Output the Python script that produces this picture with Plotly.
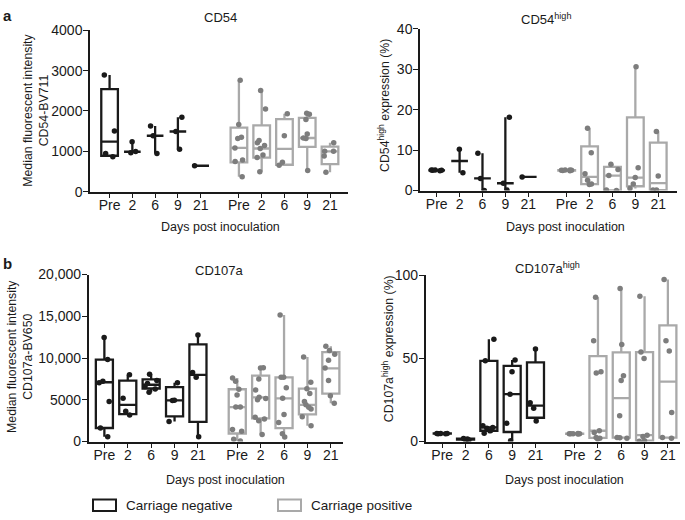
import plotly.graph_objects as go

# ---------------- data ----------------
categories = ["Pre", "2", "6", "9", "21"]

# panel a, left: CD54 MFI
cd54_neg_points = [[2890, 1506, 947, 868], [1240, 995, 965], [1626, 1386, 947],
                   [1842, 1491, 1050], [643]]
cd54_neg_stats = [[868, 890, 1240, 2540, 2890], [965, 990, 990, 990, 1240],
                  [947, 1386, 1386, 1386, 1626], [1050, 1491, 1491, 1491, 1842],
                  [643, 643, 643, 643, 643]]
cd54_pos_points = [[2762, 1667, 1347, 1320, 1083, 787, 748, 372],
                   [2506, 2050, 1266, 1211, 1146, 1067, 906, 844, 492],
                   [1930, 1386, 731, 655],
                   [1945, 1920, 1787, 1427, 1330, 1320, 523],
                   [1211, 1002, 1000, 883, 484]]
cd54_pos_stats = [[372, 724, 1083, 1587, 2762], [492, 844, 1070, 1642, 2506],
                  [655, 667, 1060, 1800, 1930], [523, 1108, 1330, 1827, 1945],
                  [484, 683, 1000, 1115, 1211]]

# panel a, right: CD54 high %
cd54h_neg_points = [[5.0, 5.1, 4.9, 5.0, 5.05], [10.2, 4.4], [9.2, 3.0, 0.0],
                    [18.1, 1.8, 0.1], [3.35]]
cd54h_neg_stats = [[4.9, 5.0, 5.0, 5.0, 5.1], [4.4, 7.3, 7.3, 7.3, 10.2],
                   [0.0, 3.0, 3.0, 3.0, 9.2], [0.1, 1.8, 1.8, 1.8, 18.1],
                   [3.35, 3.35, 3.35, 3.35, 3.35]]
cd54h_pos_points = [[5.0, 4.9, 5.1, 5.0, 4.95, 5.05], [15.4, 9.35, 4.15, 2.55, 1.6, 1.5],
                    [6.5, 5.2, 3.7, 0.1, 0.0], [30.6, 5.6, 3.2, 1.6, 0.5],
                    [14.6, 3.6, 0.1, 0.1]]
cd54h_pos_stats = [[4.9, 4.95, 5.0, 5.05, 5.1], [1.5, 1.58, 3.35, 10.9, 15.4],
                   [0.0, 0.05, 3.7, 5.85, 6.5], [0.5, 1.05, 3.2, 18.1, 30.6],
                   [0.1, 0.1, 1.85, 11.85, 14.6]]

# panel b, left: CD107a MFI
cd107_neg_points = [[12450, 9815, 7230, 7030, 4790, 1620, 580], [8000, 5170, 3630, 3170],
                    [8050, 7300, 6950, 6600, 6300, 5900], [7030, 4950, 4900, 2390],
                    [12760, 8270, 7690, 580]]
cd107_neg_stats = [[580, 1620, 7100, 9815, 12450], [3170, 3285, 4400, 7290, 8000],
                   [5900, 6350, 6800, 7450, 8050], [2390, 3017, 4925, 6510, 7030],
                   [580, 2357, 7980, 11637, 12760]]
cd107_pos_points = [[7610, 7230, 6260, 5570, 4130, 4130, 1430, 1230, 270, 70],
                    [8850, 8800, 7490, 6180, 5300, 5140, 5000, 2900, 2700, 2500, 850],
                    [15150, 7690, 7690, 6450, 5170, 3250, 2270, 930, 540],
                    [10130, 7110, 6330, 5750, 4790, 4400, 4100, 3900, 2970, 1890],
                    [11400, 10900, 10440, 9740, 8800, 7310, 5490, 4590]]
cd107_pos_stats = [[70, 960, 4130, 6260, 7610], [850, 2780, 5300, 7890, 8850],
                   [540, 1600, 5170, 7690, 15150], [1890, 3250, 4400, 6330, 10130],
                   [4590, 5750, 8770, 10710, 11400]]

# panel b, right: CD107a high %
cd107h_neg_points = [[4.8, 4.7, 4.9, 4.8, 4.75], [1.9, 1.5, 1.2, 1.0],
                     [61.5, 48.5, 9.5, 8.5, 8.0, 6.5, 5.0], [49, 42, 28.5, 11, 0.5],
                     [55.7, 23.3, 20, 12.4]]
cd107h_neg_stats = [[4.7, 4.75, 4.8, 4.85, 4.9], [1.0, 1.1, 1.35, 1.8, 1.9],
                    [5.0, 6.5, 8.5, 48.5, 61.5], [0.5, 5.75, 28.5, 45.5, 49],
                    [12.4, 14.3, 21.65, 47.6, 55.7]]
cd107h_pos_points = [[4.7, 4.8, 4.6, 4.7, 4.75, 4.65],
                     [86.8, 60.6, 42, 41.2, 6.5, 5.5, 2.5, 2.0, 1.5],
                     [92, 58.3, 39.6, 36.7, 15.5, 2.5, 2.3, 2.0],
                     [87.4, 53.8, 49.9, 3.8, 3.0, 0.5, 0.2],
                     [97.5, 60.6, 54.4, 17.5, 2.5, 2.0]]
cd107h_pos_stats = [[4.6, 4.65, 4.7, 4.75, 4.8], [1.5, 2.25, 6.5, 51.3, 86.8],
                    [2.0, 2.35, 26.1, 53.6, 92], [0.2, 0.5, 3.8, 53.8, 87.4],
                    [2.0, 2.4, 36, 69.8, 97.5]]

# ---------------- styling / layout ----------------
W, H = 685, 520
FONT = "Liberation Sans, Arial, Helvetica, sans-serif"
BLACK = "#1a1a1a"
GRAY_LINE = "#a9a9a9"
GRAY_DOT = "#7d7d7d"
GAP = 5.68          # offset of the carriage-positive group on the x axis
BOXW = 0.73


def px(x):
    return x / W


def py(y):
    return 1 - y / H


panels = [
    dict(neg=(cd54_neg_points, cd54_neg_stats), pos=(cd54_pos_points, cd54_pos_stats),
         xdom=[px(90), px(348)], xr=[-0.86, 10.47], ydom=[py(189.5), py(23)], yr=[0, 4000],
         tickvals=[0, 1000, 2000, 3000, 4000], ticktext=["0", "1000", "2000", "3000", "4000"]),
    dict(neg=(cd54h_neg_points, cd54h_neg_stats), pos=(cd54h_pos_points, cd54h_pos_stats),
         xdom=[px(420), px(677)], xr=[-0.73, 10.5], ydom=[py(188.3), py(21.5)], yr=[0, 40],
         tickvals=[0, 10, 20, 30, 40], ticktext=["0", "10", "20", "30", "40"]),
    dict(neg=(cd107_neg_points, cd107_neg_stats), pos=(cd107_pos_points, cd107_pos_stats),
         xdom=[px(88.7), px(343)], xr=[-0.67, 10.2], ydom=[py(447.3), py(275)], yr=[0, 20000],
         tickvals=[0, 5000, 10000, 15000, 20000], ticktext=["0", "5000", "10,000", "15,000", "20,000"]),
    dict(neg=(cd107h_neg_points, cd107h_neg_stats), pos=(cd107h_pos_points, cd107h_pos_stats),
         xdom=[px(425.7), px(680)], xr=[-0.71, 10.2], ydom=[py(447.3), py(275.7)], yr=[0, 100],
         tickvals=[0, 50, 100], ticktext=["0", "50", "100"]),
]

fig = go.Figure()
layout_axes = {}

for k, p in enumerate(panels):
    sfx = "" if k == 0 else str(k + 1)
    xa, ya = "x" + sfx, "y" + sfx
    for grp, offset, lcol, dcol in (("neg", 0.0, BLACK, BLACK), ("pos", GAP, GRAY_LINE, GRAY_DOT)):
        pts, stats = p[grp]
        xpos = [offset + i for i in range(len(categories))]
        fig.add_trace(go.Box(
            x=xpos,
            lowerfence=[s[0] for s in stats], q1=[s[1] for s in stats],
            median=[s[2] for s in stats], q3=[s[3] for s in stats],
            upperfence=[s[4] for s in stats],
            width=BOXW, whiskerwidth=0, boxpoints=False,
            line=dict(color=lcol, width=2.3), fillcolor="rgba(0,0,0,0)",
            xaxis=xa, yaxis=ya, showlegend=False, hoverinfo="skip"))
        xs, ys = [], []
        for i, vals in enumerate(pts):
            xs += [xpos[i]] * len(vals)
            ys += vals
        fig.add_trace(go.Box(
            x=xs, y=ys, boxpoints="all", jitter=0.75, pointpos=0, width=BOXW,
            line=dict(color="rgba(0,0,0,0)", width=0), fillcolor="rgba(0,0,0,0)",
            marker=dict(color=dcol, size=5.5), xaxis=xa, yaxis=ya, showlegend=False))

    tickx = [i for i in range(5)] + [GAP + i for i in range(5)]
    layout_axes["xaxis" + sfx] = dict(
        domain=p["xdom"], range=p["xr"], anchor=ya, tickmode="array", tickvals=tickx,
        ticktext=categories + categories, showline=True, linecolor=BLACK, linewidth=1.5,
        ticks="outside", ticklen=5, tickwidth=1.4, tickcolor=BLACK, showgrid=False,
        zeroline=False, ticklabelstandoff=-5,
        tickfont=dict(size=14, color=BLACK, family=FONT))
    layout_axes["yaxis" + sfx] = dict(
        domain=p["ydom"], range=p["yr"], anchor=xa, tickmode="array",
        tickvals=p["tickvals"], ticktext=p["ticktext"], showline=True, linecolor=BLACK,
        linewidth=1.5, ticks="outside", ticklen=5, tickwidth=1.4, tickcolor=BLACK,
        showgrid=False, zeroline=False, ticklabelstandoff=-2,
        tickfont=dict(size=14, color=BLACK, family=FONT))

ann = []


def text(x, y, s, size=12.5, angle=0, xanchor="center", bold=False):
    ann.append(dict(x=px(x), y=py(y), xref="paper", yref="paper", text=("<b>%s</b>" % s) if bold else s,
                    showarrow=False, textangle=angle, xanchor=xanchor, yanchor="middle",
                    font=dict(size=size, color=BLACK, family=FONT)))


text(8, 8, "a", size=15, bold=True)
text(8, 264, "b", size=15, bold=True)
text(220, 10, "CD54", 13)
text(546, 11, "CD54<sup>high</sup>", 13)
text(219, 271, "CD107a", 13)
text(547, 268, "CD107a<sup>high</sup>", 13)
text(220, 226, "Days post inoculation", 12.5)
text(565, 226, "Days post inoculation", 12.5)
text(226, 487, "Days post inoculation", 12.5)
text(564, 487, "Days post inoculation", 12.5)
text(36, 106, "Median fluorescent intensity<br>CD54-BV711", 12.3, angle=-90)
text(384, 101, "CD54<sup>high</sup> expression (%)", 12.3, angle=-90)
text(20, 360, "Median fluorescent intensity<br>CD107a-BV650", 12.3, angle=-90)
text(388, 352, "CD107a<sup>high</sup> expression (%)", 12.3, angle=-90)
text(124, 513, "Carriage negative", 13.5, xanchor="left")
text(309, 513, "Carriage positive", 13.5, xanchor="left")

shapes = [
    dict(type="rect", xref="paper", yref="paper", x0=px(93), x1=px(116), y0=py(519), y1=py(507),
         line=dict(color=BLACK, width=2)),
    dict(type="rect", xref="paper", yref="paper", x0=px(278), x1=px(301), y0=py(519), y1=py(507),
         line=dict(color=GRAY_LINE, width=2)),
]

fig.update_layout(width=W, height=H, margin=dict(l=0, r=0, t=0, b=0),
                  paper_bgcolor="white", plot_bgcolor="white", boxmode="overlay",
                  annotations=ann, shapes=shapes, font=dict(family=FONT, color=BLACK),
                  **layout_axes)

fig.write_html("out.html", config={"displayModeBar": False},
               post_script="document.body.style.margin='0px';document.body.style.overflow='hidden';")
